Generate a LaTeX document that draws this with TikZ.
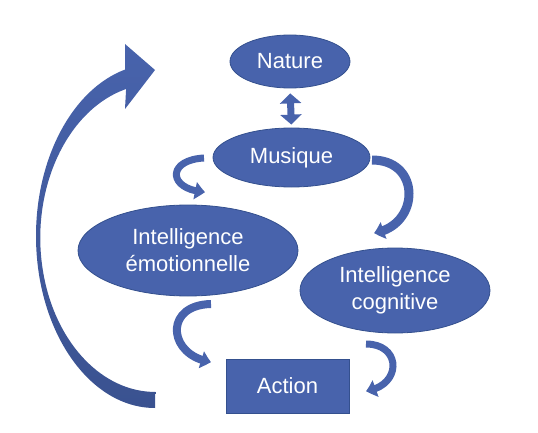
\documentclass[tikz,border=0pt]{standalone}
\usepackage{fontspec}
\setmainfont{Liberation Sans}
\usetikzlibrary{arrows.meta,bending,shapes.geometric}
\definecolor{pblue}{RGB}{72,99,172}
\definecolor{pedge}{RGB}{52,80,142}
\definecolor{pdark}{RGB}{58,82,144}
\begin{document}
\begin{tikzpicture}[x=1pt,y=-1pt,
  bubble/.style={ellipse,draw=pedge,line width=0.8pt,fill=pblue,text=white,inner sep=0pt,align=center,font=\fontsize{22}{27}\selectfont},
  actbox/.style={rectangle,draw=pedge,line width=0.8pt,fill=pblue,text=white,inner sep=0pt,font=\fontsize{22}{27}\selectfont},
  curvearrow/.style={draw=pblue,line width=#1,-{Triangle[width=17pt,length=10pt,bend]}},
  dblarrow/.style={draw=pblue,line width=7pt,{Triangle[width=21pt,length=10pt]}-{Triangle[width=21pt,length=10pt]}}]
\useasboundingbox (0,0) rectangle (538,433);

% big return arrow
\shade[top color=pblue, bottom color=pdark]
  (155,408) arc[start angle=90, end angle=255.4, x radius=119, y radius=172]
  -- (125,44) -- (155,70) -- (125,109) -- (126.1,89)
  arc[start angle=255.3, end angle=90, x radius=115, y radius=154] -- cycle;

% nodes
\node[bubble, minimum width=120pt, minimum height=53pt] (nat) at (290,61.5) {Nature};
\node[bubble, minimum width=157pt, minimum height=59pt] (mus) at (291.5,157.5) {Musique};
\node[bubble, minimum width=220pt, minimum height=91pt] (ie) at (188,250.5) {Intelligence\\émotionnelle};
\node[bubble, minimum width=190pt, minimum height=85pt] (ic) at (395,290.5) {Intelligence\\cognitive};
\node[actbox, minimum width=123pt, minimum height=54pt] (act) at (287.5,386) {Action};

% double arrow
\draw[dblarrow, shorten <=5pt, shorten >=3pt] (nat.south) -- (mus.north);

% curved arrows
\coordinate (a1s) at (204,158);
\coordinate (a1e) at (205,192);
\draw[curvearrow=7pt] (a1s) .. controls (166,160) and (168,190) .. (a1e);

\coordinate (a2s) at (372,160);
\coordinate (a2e) at (374,233);
\draw[curvearrow=9pt] (a2s) .. controls (422,160) and (420,226) .. (a2e);

\coordinate (a3s) at (211,304);
\coordinate (a3e) at (211,362);
\draw[curvearrow=8pt] (a3s) .. controls (163,305) and (168,356) .. (a3e);

\coordinate (a4s) at (366,344);
\coordinate (a4e) at (366,391);
\draw[curvearrow=7pt] (a4s) .. controls (402,344) and (402,386) .. (a4e);
\end{tikzpicture}
\end{document}
